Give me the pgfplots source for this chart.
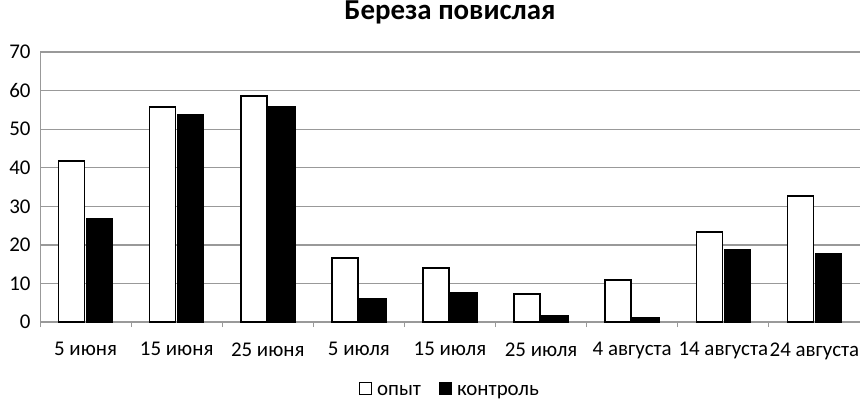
\documentclass[border=0pt]{standalone}
\usepackage{fontspec}
\setmainfont{Carlito}
\usepackage{pgfplots}
\pgfplotsset{compat=1.18}

\begin{document}
\begin{tikzpicture}
\begin{axis}[
    scale only axis,
    at={(0,0)}, anchor=south west,
    width=820bp, height=270bp,
    ybar, bar width=26bp,
    xmin=-0.5, xmax=8.5,
    ymin=0, ymax=70,
    ytick={0,10,...,70},
    xtick={0,...,8},
    xticklabels={5 июня,15 июня,25 июня,5 июля,15 июля,25 июля,4 августа,14 августа,24 августа},
    minor xtick={-0.5,0.5,...,8.5},
    major tick length=0pt,
    minor tick length=5bp,
    tick align=outside,
    tick style={gray!80, line width=1pt},
    axis x line*=bottom, axis y line*=left,
    axis line style={gray!80, line width=1pt, -},
    ymajorgrids, grid style={gray!80, line width=1.3pt},
    xticklabel style={yshift=-17bp},
    yticklabel style={xshift=-6bp},
    ticklabel style={font=\fontsize{21}{25}\selectfont},
    /pgf/number format/assume math mode=true,
    title={\bfseries Береза повислая},
    title style={font=\fontsize{29}{33}\selectfont\bfseries, yshift=18bp},
    legend style={at={(0.5,-0.215)}, anchor=north, draw=none, legend columns=2,
        font=\fontsize{21}{25}\selectfont,
        /tikz/every odd column/.append style={column sep=3bp},
        /tikz/every even column/.append style={column sep=16bp}},
    legend image code/.code={\draw[#1, draw=black, line width=1pt, bar width=0pt, bar shift=0pt] (0bp,-4bp) rectangle (12bp,8bp);},
]
\addplot[draw=black, fill=white, line width=1.5pt] coordinates {
    (0,41.7) (1,55.7) (2,58.6) (3,16.6) (4,14.0) (5,7.3) (6,10.9) (7,23.3) (8,32.7)
};
\addplot[draw=black, fill=black, line width=1.5pt] coordinates {
    (0,26.7) (1,53.7) (2,55.7) (3,6.0) (4,7.5) (5,1.6) (6,1.0) (7,18.7) (8,17.6)
};
\legend{опыт, контроль}
\end{axis}
\pgfresetboundingbox
\path (-40bp,-82bp) rectangle (820bp,322bp);
\end{tikzpicture}
\end{document}
